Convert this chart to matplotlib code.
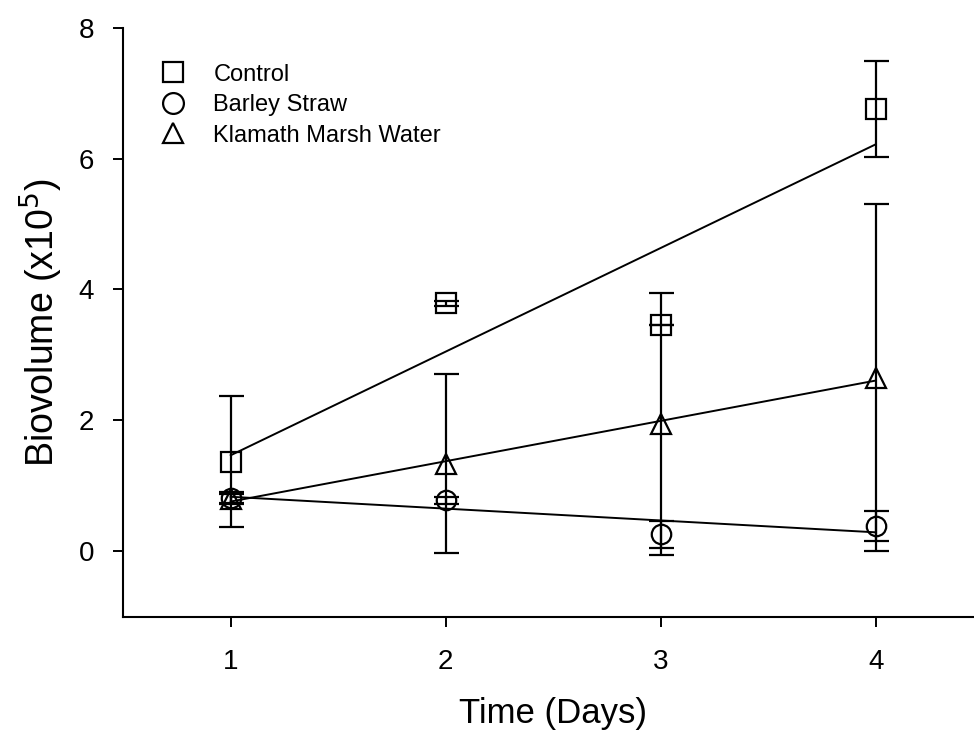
import numpy as np
import matplotlib
matplotlib.use('Agg')
import matplotlib.pyplot as plt
from matplotlib.lines import Line2D

plt.rcParams['font.family'] = ['Liberation Sans', 'DejaVu Sans']

days = [1, 2, 3, 4]

control = [1.37, 3.79, 3.45, 6.76]
control_err = [1.00, 0.04, 0.0, 0.73]

barley = [0.82, 0.78, 0.26, 0.39]
barley_err = [0.08, 0.05, 0.21, 0.23]

klamath = [0.80, 1.34, 1.95, 2.65]
klamath_err = [0.08, 1.37, 2.00, 2.65]

labels = ['Control', 'Barley Straw', 'Klamath Marsh Water']
markers = ['s', 'o', '^']

fig = plt.figure(figsize=(9.74, 7.45), dpi=100)
ax = fig.add_axes([0.1265, 0.172, 0.883, 0.791])

series = [(control, control_err), (barley, barley_err), (klamath, klamath_err)]
x = np.array(days, dtype=float)
for (y, e), m in zip(series, markers):
    # regression line through the means
    slope, icpt = np.polyfit(x, y, 1)
    ax.plot(x, slope * x + icpt, color='black', lw=1.4, zorder=2)
    ax.errorbar(x, y, yerr=e, fmt='none', ecolor='black', elinewidth=1.6,
                capsize=9, capthick=1.6, zorder=3)
    ms = 14 if m != '^' else 15
    ax.plot(x, y, linestyle='none', marker=m, markersize=ms,
            markerfacecolor='none', markeredgecolor='black',
            markeredgewidth=1.6, zorder=4)

ax.set_xlim(0.5, 4.5)
ax.set_ylim(-1, 8)
ax.set_xticks(days)
ax.set_yticks([0, 2, 4, 6, 8])
ax.tick_params(axis='both', labelsize=20, width=1.4, length=7, direction='out')
ax.tick_params(axis='x', pad=16)
ax.tick_params(axis='y', pad=14)
ax.spines['top'].set_visible(False)
ax.spines['right'].set_visible(False)
ax.spines['left'].set_linewidth(1.5)
ax.spines['bottom'].set_linewidth(1.5)

ax.set_xlabel('Time (Days)', fontsize=25, labelpad=16)
ax.set_ylabel('Biovolume (x10$^5$)', fontsize=27, labelpad=10)

handles = [Line2D([], [], linestyle='none', marker=m, markersize=15,
                  markerfacecolor='none', markeredgecolor='black',
                  markeredgewidth=1.6) for m in markers]
ax.legend(handles, labels, loc='upper left', bbox_to_anchor=(0.013, 0.975),
          frameon=False, fontsize=17, handletextpad=0.95, labelspacing=0.36,
          handlelength=1.5)

fig.savefig('out.png', dpi=100)
